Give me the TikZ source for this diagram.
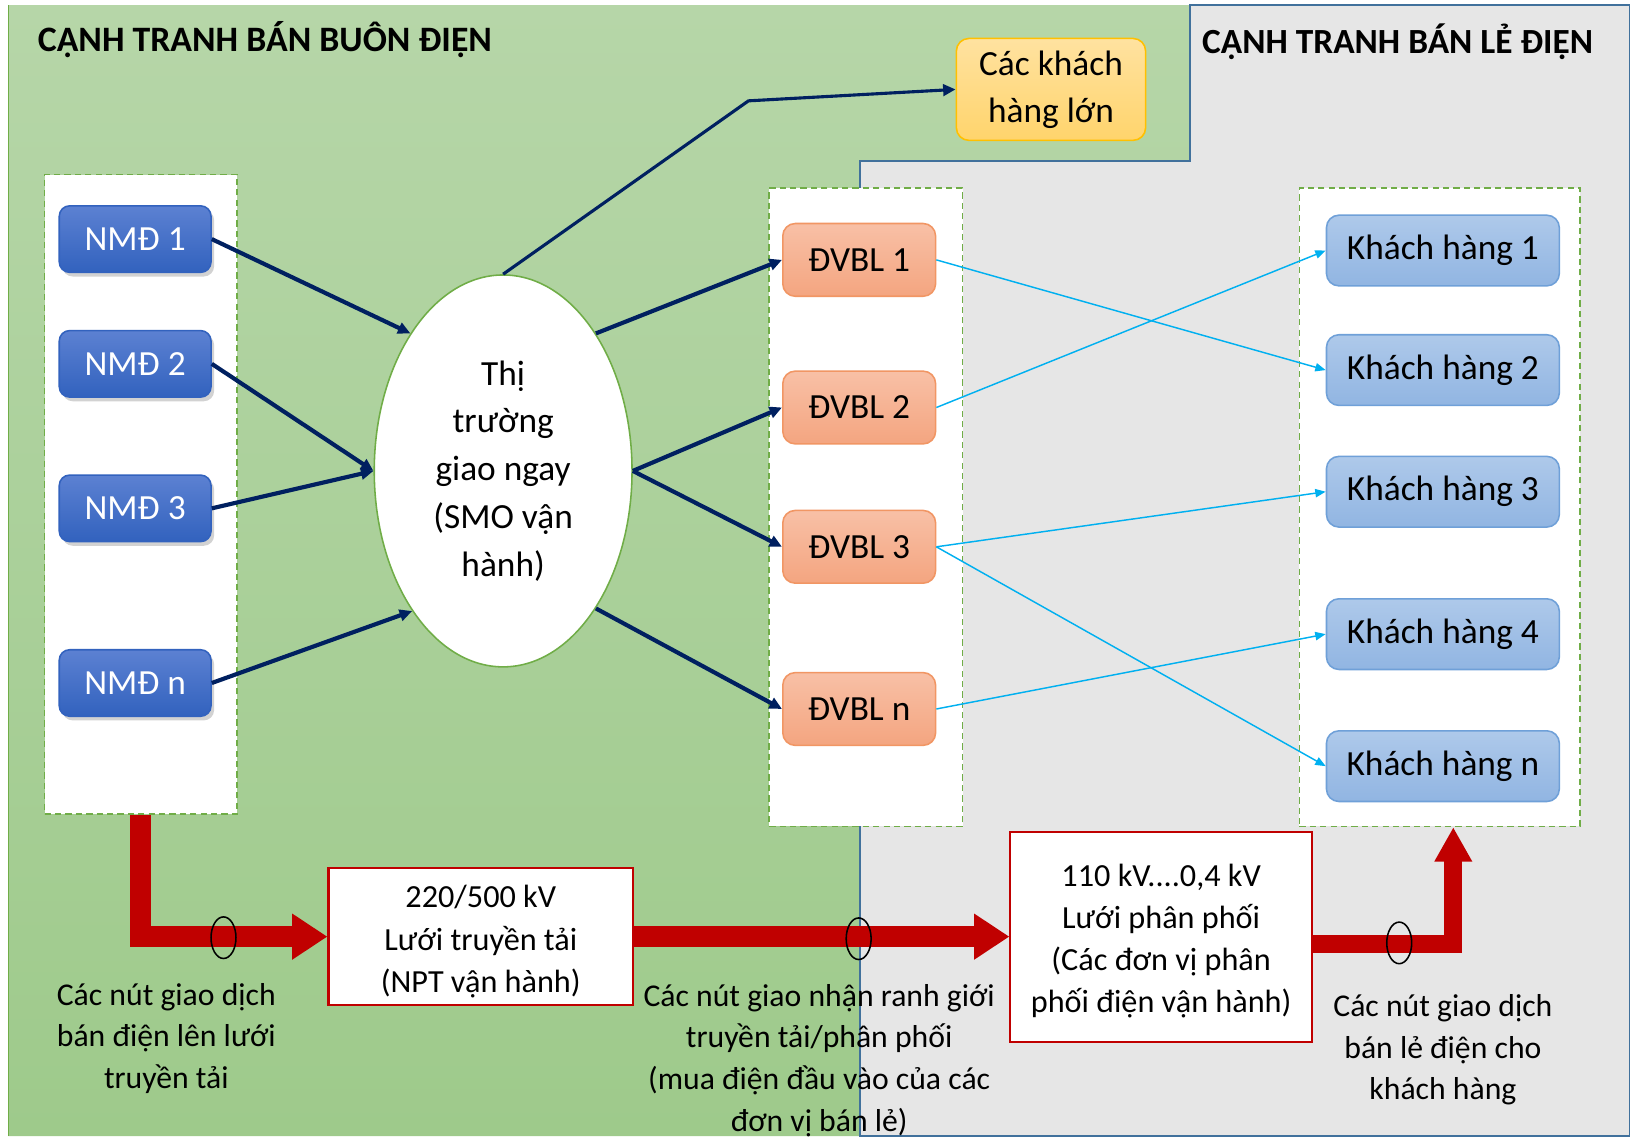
\documentclass[tikz,border=0pt]{standalone}
\usepackage{fontspec}
\setmainfont{Carlito}
\usetikzlibrary{arrows.meta,shapes.geometric,shadows,calc}

\definecolor{greentop}{RGB}{182,214,168}
\definecolor{greenbot}{RGB}{158,202,139}
\definecolor{greyback}{RGB}{230,230,230}
\definecolor{edgeblue}{RGB}{65,113,156}
\definecolor{dashgreen}{RGB}{112,173,71}
\definecolor{navy}{RGB}{0,32,96}
\definecolor{cyanline}{RGB}{0,176,240}
\definecolor{darkred}{RGB}{192,0,0}
\definecolor{nmdtop}{RGB}{92,129,210}
\definecolor{nmdbot}{RGB}{50,98,190}
\definecolor{dvtop}{RGB}{248,192,166}
\definecolor{dvbot}{RGB}{244,165,128}
\definecolor{dvedge}{RGB}{241,150,100}
\definecolor{khtop}{RGB}{174,201,234}
\definecolor{khbot}{RGB}{145,181,226}
\definecolor{khedge}{RGB}{111,160,216}
\definecolor{bigtop}{RGB}{255,226,160}
\definecolor{bigbot}{RGB}{255,212,108}
\definecolor{bigedge}{RGB}{255,192,0}

\tikzset{every picture/.style={line width=0.75pt}}
\tikzset{
  group/.style={draw=dashgreen, dash pattern=on 3pt off 2pt, fill=white, inner sep=0pt},
  nmd/.style={rounded corners=5pt, top color=nmdtop, bottom color=nmdbot, draw=nmdbot,
    drop shadow={opacity=0.35, shadow xshift=1.5pt, shadow yshift=-2pt},
    minimum width=73pt, minimum height=32pt, text=white, font=\fontsize{17}{20}\selectfont},
  dvbl/.style={rounded corners=6pt, top color=dvtop, bottom color=dvbot, draw=dvedge,
    minimum width=73.5pt, minimum height=35pt, font=\fontsize{17}{20}\selectfont},
  kh/.style={rounded corners=6pt, top color=khtop, bottom color=khbot, draw=khedge,
    minimum width=112pt, minimum height=34pt, font=\fontsize{17}{20}\selectfont},
  gridbox/.style={draw=darkred, line width=1pt, fill=white, align=center, inner sep=0pt,
    font=\fontsize{15.5}{20.25}\selectfont},
  note/.style={align=center, font=\fontsize{15.25}{20}\selectfont},
  tie/.style={ellipse, draw=black, minimum width=12pt, minimum height=20pt, inner sep=0pt},
  feed/.style={navy, line width=2pt, -{Triangle[length=6pt,width=5.5pt]}},
  sale/.style={cyanline, line width=0.7pt, -{Triangle[length=5pt,width=4pt]}},
  power/.style={darkred, line width=10pt, -{Triangle[length=17pt,width=21pt]}}
}

\begin{document}
\begin{tikzpicture}[x=0.5pt,y=0.5pt,yscale=-1]
  \useasboundingbox (0,0) rectangle (1568,1093);
  \fill[white] (0,0) rectangle (1568,1093);

  %Shape: wholesale area
  \shade[top color=greentop, bottom color=greenbot] (8,5) -- (1145,5) -- (1145,155) -- (827,155) -- (827,1093) -- (8,1093) -- cycle ;
  \draw[dashgreen, line width=0.5pt] (8,5) -- (8,1093) ;
  %Shape: retail area
  \filldraw[fill=greyback, draw=edgeblue, line width=1pt] (1145,5) -- (1568,5) -- (1568,1093) -- (827,1093) -- (827,155) -- (1145,155) -- cycle ;

  % Text Node
  \node[anchor=base west, font=\bfseries\fontsize{17.2}{20}\selectfont] (wholesale) at (29,50) {CẠNH TRANH BÁN BUÔN ĐIỆN};
  % Text Node
  \node[anchor=base west, font=\bfseries\fontsize{17}{20}\selectfont] (retail) at (1149,51) {CẠNH TRANH BÁN LẺ ĐIỆN};

  %Shape: dashed groups
  \node[group, minimum width=92.5pt, minimum height=307.5pt] (gen) at (135.5,475.5) {};
  \node[group, minimum width=93pt, minimum height=307pt] (ret) at (833,488) {};
  \node[group, minimum width=135pt, minimum height=307pt] (cust) at (1385,488) {};

  %Shape: power plants
  \node[nmd] (nmd1) at (130,230) {NMĐ 1};
  \node[nmd] (nmd2) at (130,350) {NMĐ 2};
  \node[nmd] (nmd3) at (130,489) {NMĐ 3};
  \node[nmd] (nmdn) at (130,657) {NMĐ n};

  %Shape: Ellipse
  \node[ellipse, draw=dashgreen, fill=white, minimum width=124pt, minimum height=188.5pt, inner sep=0pt,
    align=center, font=\fontsize{17}{23}\selectfont] (spot) at (484,453) {Thị\\trường\\giao ngay\\(SMO vận\\hành)};

  %Shape: large customers
  \node[rounded corners=6pt, top color=bigtop, bottom color=bigbot, draw=bigedge, minimum width=91pt,
    minimum height=49pt, align=center, font=\fontsize{17}{22.5}\selectfont] (big) at (1011,86) {Các khách\\hàng lớn};

  %Shape: retailers
  \node[dvbl] (dv1) at (826.5,250) {ĐVBL 1};
  \node[dvbl] (dv2) at (826.5,392) {ĐVBL 2};
  \node[dvbl] (dv3) at (826.5,526) {ĐVBL 3};
  \node[dvbl] (dvn) at (826.5,682) {ĐVBL n};

  %Shape: customers
  \node[kh] (kh1) at (1388,241) {Khách hàng 1};
  \node[kh] (kh2) at (1388,356) {Khách hàng 2};
  \node[kh] (kh3) at (1388,473) {Khách hàng 3};
  \node[kh] (kh4) at (1388,610) {Khách hàng 4};
  \node[kh] (khn) at (1388,737) {Khách hàng n};

  %Shape: grids
  \node[gridbox, minimum width=146.5pt, minimum height=66pt] (tx) at (462.5,901) {\rule{0pt}{15.5pt}220/500 kV\\Lưới truyền tải\\(NPT vận hành)};
  \node[gridbox, minimum width=145pt, minimum height=101pt] (dx) at (1117,901) {\rule{0pt}{15pt}110 kV....0,4 kV\\Lưới phân phối\\(Các đơn vị phân\\phối điện vận hành)};

  %Arrows: wholesale
  \draw[feed] (nmd1.east) -- (spot.124);
  \draw[feed] (nmd2.east) -- (spot.180);
  \draw[feed] (nmd3.east) -- (spot.180);
  \draw[feed] (nmdn.east) -- (spot.237);
  \draw[feed] (spot.56) -- (dv1.west);
  \draw[feed] (spot.0) -- (dv2.west);
  \draw[feed] (spot.0) -- (dv3.west);
  \draw[feed] (spot.304) -- (dvn.west);
  \draw[feed, line width=1.5pt] (spot.90) -- (720,97) -- (big.west);

  %Arrows: retail
  \draw[sale] (dv1.east) -- (kh2.west);
  \draw[sale] (dv2.east) -- (kh1.west);
  \draw[sale] (dv3.east) -- (kh3.west);
  \draw[sale] (dv3.east) -- (khn.west);
  \draw[sale] (dvn.east) -- (kh4.west);

  %Right Arrow: power flow
  \draw[power] (gen.south) |- (tx.west);
  \draw[power] (tx.east) -- (dx.west);
  \coordinate (up) at ($(cust.south)+(13,0)$);
  \draw[power, line width=8.5pt, -{Triangle[length=16.5pt,width=17pt]}] ($(dx.east)+(0,7)$) -| (up);

  %Shape: Ellipse nodes
  \node[tie] (tie1) at (215,902) {};
  \node[tie] (tie2) at (826,903) {};
  \node[tie] (tie3) at (1346,907) {};

  % Text Node
  \node[note] (lbl1) at (160,999) {Các nút giao dịch\\bán điện lên lưới\\truyền tải};
  % Text Node
  \node[note] (lbl2) at (788,1020) {Các nút giao nhận ranh giới\\truyền tải/phân phối\\(mua điện đầu vào của các\\đơn vị bán lẻ)};
  % Text Node
  \node[note] (lbl3) at (1388,1010) {Các nút giao dịch\\bán lẻ điện cho\\khách hàng};
\end{tikzpicture}
\end{document}
